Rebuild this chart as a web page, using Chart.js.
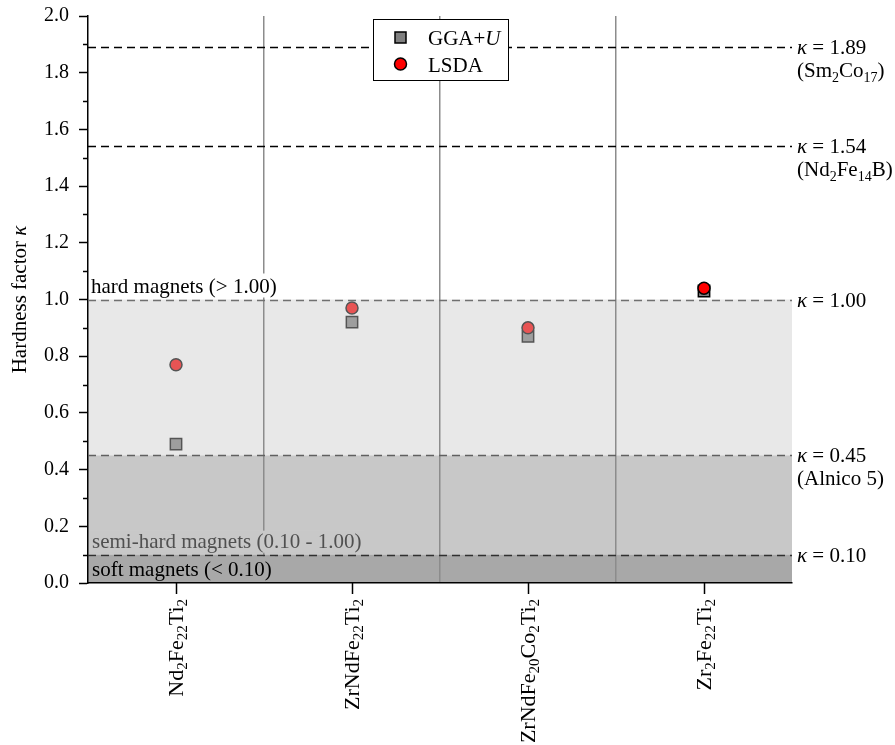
<!DOCTYPE html>
<html>
<head>
<meta charset="utf-8">
<script src="https://cdn.jsdelivr.net/npm/chart.js@4.4.1/dist/chart.umd.min.js"></script>
<style>
  html, body { margin: 0; padding: 0; background: #ffffff; }
  #wrap { width: 895px; height: 745px; }
</style>
</head>
<body>
<div id="wrap"><canvas id="chart" width="895" height="745"></canvas></div>
<script>
// ---- data ----
const compounds = ['Nd2Fe22Ti2', 'ZrNdFe22Ti2', 'ZrNdFe20Co2Ti2', 'Zr2Fe22Ti2'];
// chemical formulas split into [text, subscript?] pieces
const compoundFormulas = [
  [['Nd'], ['2', 's'], ['Fe'], ['22', 's'], ['Ti'], ['2', 's']],
  [['ZrNdFe'], ['22', 's'], ['Ti'], ['2', 's']],
  [['ZrNdFe'], ['20', 's'], ['Co'], ['2', 's'], ['Ti'], ['2', 's']],
  [['Zr'], ['2', 's'], ['Fe'], ['22', 's'], ['Ti'], ['2', 's']]
];
const ggaU = [0.49, 0.92, 0.87, 1.03];
const lsda = [0.77, 0.97, 0.90, 1.04];

// reference hardness levels and the materials they belong to
const refLevels = [1.89, 1.54, 1.00, 0.45, 0.10];
const refMaterials = [
  [['(Sm'], ['2', 's'], ['Co'], ['17', 's'], [')']],
  [['(Nd'], ['2', 's'], ['Fe'], ['14', 's'], ['B)']],
  null,
  [['(Alnico 5)']],
  null
];

// magnet classes: [lower, upper]
const classBounds = [[0.45, 1.00], [0.10, 0.45], [0.00, 0.10]];
const classNames = ['hard magnets (> 1.00)', 'semi-hard magnets (0.10 - 1.00)', 'soft magnets (< 0.10)'];

// ---- styles ----
const FONT = '"Liberation Serif", "Times New Roman", serif';
const FS = 21;
const bandFill = ['rgba(200,200,200,0.42)', 'rgba(150,150,150,0.524)', 'rgba(120,120,120,0.644)'];
const bandSolid = ['#ffffff', '#c8c8c8', '#a8a8a8'];
const refColors = ['#000000', '#000000', '#707070', '#606060', '#303030'];

function fontFor(size, italic) {
  return (italic ? 'italic ' : '') + size + 'px ' + FONT;
}

// width of a run of rich-text pieces
function richWidth(ctx, parts, size) {
  let w = 0;
  for (const p of parts) {
    const sub = p[1] === 's';
    ctx.font = fontFor(sub ? Math.round(size * 0.66) : size, p[1] === 'i');
    w += ctx.measureText(p[0]).width;
  }
  return w;
}

// draws pieces starting at x on the given baseline
function drawRich(ctx, parts, x, y, size, color) {
  ctx.fillStyle = color || '#000';
  ctx.textBaseline = 'alphabetic';
  ctx.textAlign = 'left';
  for (const p of parts) {
    const sub = p[1] === 's';
    ctx.font = fontFor(sub ? Math.round(size * 0.66) : size, p[1] === 'i');
    ctx.fillText(p[0], x, sub ? y + size * 0.22 : y);
    x += ctx.measureText(p[0]).width;
  }
  return x;
}

const annotations = {
  id: 'annotations',
  afterDatasetsDraw(chart) {
    const { ctx, chartArea: a, scales: { y } } = chart;
    ctx.save();
    classBounds.forEach((b, i) => {
      const top = y.getPixelForValue(b[1]);
      const bot = y.getPixelForValue(b[0]);
      ctx.fillStyle = bandFill[i];
      ctx.fillRect(a.left, top, a.right - a.left, bot - top);
    });
    ctx.restore();
  },
  afterDraw(chart) {
    const { ctx, chartArea: a, scales: { x, y } } = chart;
    ctx.save();

    // dashed reference levels
    refLevels.forEach((v, i) => {
      const py = Math.round(y.getPixelForValue(v)) + 0.5;
      ctx.strokeStyle = refColors[i];
      ctx.lineWidth = 1.5;
      ctx.setLineDash([8, 5]);
      ctx.beginPath();
      ctx.moveTo(a.left, py);
      ctx.lineTo(a.right, py);
      ctx.stroke();
    });
    ctx.setLineDash([]);

    // labels at the right of the reference levels
    refLevels.forEach((v, i) => {
      const py = y.getPixelForValue(v);
      const lx = a.right + 5;
      drawRich(ctx, [['κ', 'i'], [' = ' + v.toFixed(2)]], lx, py + 7, FS);
      if (refMaterials[i]) drawRich(ctx, refMaterials[i], lx, py + 30, FS);
    });

    // magnet class labels
    ctx.font = fontFor(FS);
    const hardY = y.getPixelForValue(classBounds[0][1]);
    let w = ctx.measureText(classNames[0]).width;
    ctx.fillStyle = bandSolid[0];
    ctx.fillRect(a.left + 1, hardY - 26, w + 6, 24);
    drawRich(ctx, [[classNames[0]]], a.left + 3, hardY - 7, FS, '#000');

    const semiY = y.getPixelForValue(classBounds[1][0]);
    w = ctx.measureText(classNames[1]).width;
    ctx.fillStyle = bandSolid[1];
    ctx.fillRect(a.left + 1, semiY - 24, w + 6, 22);
    drawRich(ctx, [[classNames[1]]], a.left + 4, semiY - 7, FS, '#505050');

    const softY = y.getPixelForValue(classBounds[2][0]);
    w = ctx.measureText(classNames[2]).width;
    ctx.fillStyle = bandSolid[2];
    ctx.fillRect(a.left + 1, semiY + 2, w + 6, softY - semiY - 3);
    drawRich(ctx, [[classNames[2]]], a.left + 4, softY - 7, FS, '#000');

    // legend
    const lx = 373.5, ly = 19.5, lw = 135, lh = 61;
    ctx.fillStyle = '#ffffff';
    ctx.fillRect(lx, ly, lw, lh);
    ctx.strokeStyle = '#000';
    ctx.lineWidth = 1;
    ctx.strokeRect(lx, ly, lw, lh);
    ctx.lineWidth = 1.5;
    ctx.fillStyle = '#808080';
    ctx.fillRect(395, 32, 11, 11);
    ctx.strokeRect(395, 32, 11, 11);
    ctx.fillStyle = '#ff0000';
    ctx.beginPath();
    ctx.arc(400.5, 64, 6, 0, Math.PI * 2);
    ctx.fill();
    ctx.stroke();
    drawRich(ctx, [['GGA+'], ['U', 'i']], 428, 45, FS);
    drawRich(ctx, [['LSDA']], 428, 72, FS);

    // minor ticks on the y axis
    ctx.strokeStyle = '#000';
    ctx.lineWidth = 1.5;
    for (let k = 1; k < 20; k += 2) {
      const py = Math.round(y.getPixelForValue(k / 10)) + 0.5;
      ctx.beginPath();
      ctx.moveTo(a.left - 5, py);
      ctx.lineTo(a.left, py);
      ctx.stroke();
    }

    // category ticks and rotated formula labels
    compounds.forEach((c, i) => {
      const px = Math.round(x.getPixelForValue(i)) + 0.5;
      ctx.beginPath();
      ctx.moveTo(px, a.bottom);
      ctx.lineTo(px, a.bottom + 11);
      ctx.stroke();
      const parts = compoundFormulas[i];
      const tw = richWidth(ctx, parts, 22);
      ctx.save();
      ctx.translate(px, a.bottom + 16);
      ctx.rotate(-Math.PI / 2);
      drawRich(ctx, parts, -tw, 6, 22);
      ctx.restore();
    });

    // y axis title
    const title = [['Hardness factor '], ['κ', 'i']];
    const tw = richWidth(ctx, title, FS);
    ctx.save();
    ctx.translate(26, (a.top + a.bottom) / 2);
    ctx.rotate(-Math.PI / 2);
    drawRich(ctx, title, -tw / 2, 0, FS);
    ctx.restore();

    ctx.restore();
  }
};

new Chart(document.getElementById('chart'), {
  type: 'scatter',
  data: {
    labels: compounds,
    datasets: [
      {
        label: 'GGA+U',
        data: ggaU,
        pointStyle: 'rect',
        pointRadius: 8,
        backgroundColor: '#808080',
        borderColor: '#000000',
        borderWidth: 1.5,
        showLine: false,
        order: 1
      },
      {
        label: 'LSDA',
        data: lsda,
        pointStyle: 'circle',
        pointRadius: 6,
        backgroundColor: '#ff0000',
        borderColor: '#000000',
        borderWidth: 1.5,
        showLine: false,
        order: 0
      }
    ]
  },
  options: {
    responsive: false,
    animation: false,
    events: [],
    devicePixelRatio: 1,
    layout: { padding: { top: 16, right: 103, left: 0, bottom: 0 } },
    plugins: { legend: { display: false }, tooltip: { enabled: false } },
    scales: {
      x: {
        type: 'category',
        offset: true,
        afterFit(s) { s.height = 162; },
        ticks: { display: false },
        grid: {
          offset: true,
          drawTicks: false,
          z: 1,
          lineWidth: 1.5,
          // only the separators between categories, not the plot edges
          color: (c) => (c.type !== 'tick' || c.index === 0) ? 'rgba(0,0,0,0)' : '#8c8c8c'
        },
        border: { display: true, color: '#000', width: 1.5, z: 1 }
      },
      y: {
        min: 0,
        max: 2,
        afterFit(s) { s.width = 88; s.paddingTop = 0; s.paddingBottom = 0; },
        ticks: {
          stepSize: 0.2,
          color: '#000',
          padding: 10,
          font: { family: FONT, size: 20 },
          callback: (v) => Number(v).toFixed(1)
        },
        grid: {
          drawOnChartArea: false,
          drawTicks: true,
          tickLength: 9,
          tickColor: '#000',
          tickWidth: 1.5
        },
        border: { display: true, color: '#000', width: 1.5, z: 1 }
      }
    }
  },
  plugins: [annotations]
});
</script>
</body>
</html>
